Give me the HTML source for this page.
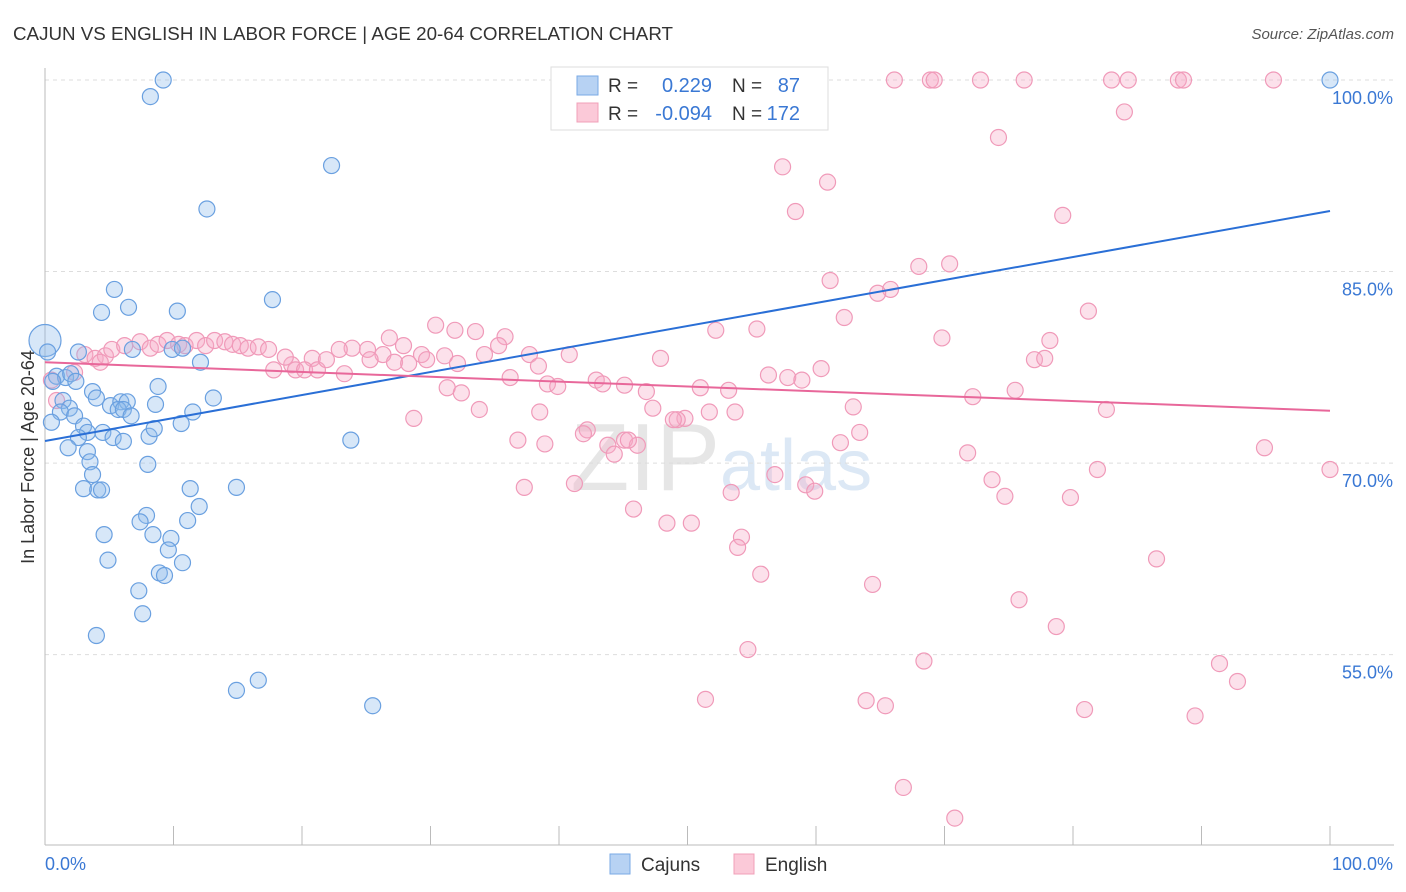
<!DOCTYPE html>
<html><head><meta charset="utf-8">
<style>
body{margin:0;background:#fff;font-family:"Liberation Sans",sans-serif;}
#wrap{position:relative;width:1406px;height:892px;overflow:hidden;}
svg text{font-family:"Liberation Sans",sans-serif;}
</style></head>
<body>
<div id="wrap">
<svg id="chart" width="1406" height="892">
<text x="13" y="40" font-size="18" fill="#333" textLength="660" lengthAdjust="spacingAndGlyphs">CAJUN VS ENGLISH IN LABOR FORCE | AGE 20-64 CORRELATION CHART</text>
<text x="1394" y="39" font-size="15" fill="#555" font-style="italic" text-anchor="end">Source: ZipAtlas.com</text>
<text x="720" y="490" font-size="96" fill="#e6e6e6" text-anchor="end" font-family="Liberation Serif">ZIP</text>
<text x="720" y="490" font-size="72" fill="#dce8f5">atlas</text>
<g id="grid"></g><g id="axes"></g><g id="pts"></g><g id="lines"></g>
<text transform="translate(34,457) rotate(-90)" font-size="18" fill="#333" text-anchor="middle">In Labor Force | Age 20-64</text>
<g>
<rect x="551" y="67" width="277" height="63" fill="#fff" stroke="#ddd"/>
<rect x="577" y="76" width="21" height="19" fill="#b7d2f3" stroke="#7aaae6"/>
<rect x="577" y="103" width="21" height="19" fill="#fbc9d8" stroke="#f0a0b8"/>
<text x="608" y="92" font-size="19" fill="#333">R =</text>
<text x="712" y="92" font-size="20" fill="#3a78d4" text-anchor="end">0.229</text>
<text x="732" y="92" font-size="19" fill="#333">N =</text>
<text x="800" y="92" font-size="20" fill="#3a78d4" text-anchor="end">87</text>
<text x="608" y="120" font-size="19" fill="#333">R =</text>
<text x="712" y="120" font-size="20" fill="#3a78d4" text-anchor="end">-0.094</text>
<text x="732" y="120" font-size="19" fill="#333">N =</text>
<text x="800" y="120" font-size="20" fill="#3a78d4" text-anchor="end">172</text>
</g>
<g>
<rect x="610" y="854" width="20" height="20" fill="#b7d2f3" stroke="#7aaae6"/>
<text x="641" y="871" font-size="19" fill="#333">Cajuns</text>
<rect x="734" y="854" width="20" height="20" fill="#fbc9d8" stroke="#f0a0b8"/>
<text x="765" y="871" font-size="19" fill="#333">English</text>
</g>
</svg>
</div>
<script>
const yTicks=[100,85,70,55];
const yTickLabels=["100.0%","85.0%","70.0%","55.0%"];
const xTickLabels=["0.0%","100.0%"];
const cajunX=[9.2,8.2,22.3,12.6,5.4,4.4,6.5,10.3,17.7,0,0.2,2.6,6.8,9.9,10.7,12.1,0.9,1.6,2.0,0.6,2.4,3.7,8.8,1.4,1.9,4.0,5.1,5.9,6.4,8.6,13.1,1.2,2.3,5.7,6.1,6.7,11.5,0.5,3.0,3.3,4.5,2.6,5.3,6.1,8.1,8.5,10.6,23.8,1.8,3.3,3.5,8.0,3.7,3.0,4.1,4.4,11.3,14.9,7.9,7.4,11.1,12.0,4.6,8.4,9.8,4.9,9.6,10.7,8.9,9.3,7.3,7.6,4.0,14.9,16.6,25.5,100];
const cajunY=[100,98.7,93.3,89.9,83.6,81.8,82.2,81.9,82.8,79.6,78.7,78.7,78.9,78.9,79.0,77.9,76.8,76.7,77.0,76.4,76.4,75.6,76.0,74.9,74.3,75.1,74.5,74.8,74.8,74.6,75.1,74.0,73.7,74.2,74.2,73.7,74.0,73.2,72.9,72.4,72.4,72.0,72.0,71.7,72.1,72.7,73.1,71.8,71.2,70.9,70.1,69.9,69.1,68.0,67.9,67.9,68.0,68.1,65.9,65.4,65.5,66.6,64.4,64.4,64.1,62.4,63.2,62.2,61.4,61.2,60.0,58.2,56.5,52.2,53.0,51.0,100];
const englishX=[66.1,68.9,69.2,72.8,76.2,83.0,84.3,88.2,88.6,95.6,84.0,74.2,57.4,60.9,58.4,79.2,68.0,70.4,61.1,65.8,64.8,81.2,62.2,52.2,55.4,69.8,78.2,77.0,77.8,60.4,56.3,57.8,58.9,75.5,72.2,62.9,82.6,47.9,51.0,53.2,53.7,51.7,49.8,49.2,63.4,61.9,71.8,56.8,59.2,59.9,73.7,74.7,81.9,79.8,94.9,100,53.4,45.8,48.4,50.3,54.2,53.9,55.7,64.4,75.8,86.5,78.7,54.7,68.4,91.4,92.8,51.4,63.9,65.4,80.9,89.5,66.8,70.8,
30.4,31.9,33.5,35.8,26.8,35.3,27.9,23.9,22.9,25.1,26.3,29.3,31.1,25.3,27.2,32.1,34.2,37.7,40.8,38.4,20.8,19.2,17.8,19.5,20.2,21.2,23.3,21.9,28.3,29.7,36.2,39.1,39.9,42.9,43.4,45.1,46.8,31.3,32.4,33.8,38.5,28.7,36.8,38.9,41.2,37.3,42.2,41.9,43.8,44.3,45.1,46.1,47.3,48.9,45.4,
3.1,3.9,4.7,5.2,6.2,7.4,8.2,8.8,9.5,10.4,10.9,11.8,12.5,13.2,14.0,14.6,15.2,15.8,16.6,17.4,18.7,4.3,2.3,0.9,0.5];
const englishY=[100,100,100,100,100,100,100,100,100,100,97.5,95.5,93.2,92.0,89.7,89.4,85.4,85.6,84.3,83.6,83.3,81.9,81.4,80.4,80.5,79.8,79.6,78.1,78.2,77.4,76.9,76.7,76.5,75.7,75.2,74.4,74.2,78.2,75.9,75.7,74.0,74.0,73.5,73.4,72.4,71.6,70.8,69.1,68.3,67.8,68.7,67.4,69.5,67.3,71.2,69.5,67.7,66.4,65.3,65.3,64.2,63.4,61.3,60.5,59.3,62.5,57.2,55.4,54.5,54.3,52.9,51.5,51.4,51.0,50.7,50.2,44.6,42.2,
80.8,80.4,80.3,79.9,79.8,79.2,79.2,79.0,78.9,78.9,78.5,78.5,78.4,78.1,77.9,77.8,78.5,78.5,78.5,77.6,78.2,77.7,77.3,77.3,77.3,77.3,77.0,78.1,77.8,78.1,76.7,76.2,76.0,76.5,76.2,76.1,75.6,75.9,75.5,74.2,74.0,73.5,71.8,71.5,68.4,68.1,72.6,72.3,71.4,70.7,71.8,71.4,74.3,73.4,71.8,
78.5,78.2,78.4,78.9,79.2,79.5,79.0,79.3,79.6,79.3,79.2,79.6,79.2,79.6,79.5,79.3,79.2,79.0,79.1,78.9,78.3,77.9,77.1,74.9,76.5];
const cajunTrend=[71.73,89.74];
const englishTrend=[77.9,74.1];

const NS="http://www.w3.org/2000/svg";
const X0=45,X1=1330,YTOP=80,PXPER=12.77;
function sx(v){return X0+(X1-X0)*v/100;}
function sy(v){return YTOP+(100-v)*PXPER;}
function mk(tag,attrs,parent){const e=document.createElementNS(NS,tag);for(const k in attrs)e.setAttribute(k,attrs[k]);parent.appendChild(e);return e;}
const grid=document.getElementById('grid'),axes=document.getElementById('axes'),pts=document.getElementById('pts'),lines=document.getElementById('lines');
yTicks.forEach((t,i)=>{
  const l=mk('line',{x1:X0,x2:1394,y1:sy(t),y2:sy(t),stroke:'#ddd','stroke-dasharray':'4,4'},grid);
  
  
  const tx=mk('text',{x:1393,y:sy(t)+24,'font-size':18,fill:'#3a78d4','text-anchor':'end'},axes);
  tx.textContent=yTickLabels[i];
  
  
});
const ya=mk('line',{x1:X0,x2:X0,y1:68,y2:845,stroke:'#bbb'},axes);


const xa=mk('line',{x1:X0,x2:1394,y1:845,y2:845,stroke:'#bbb'},axes);


for(let i=0;i<=10;i++){
  const t=mk('line',{x1:sx(i*10),x2:sx(i*10),y1:826,y2:845,stroke:'#bbb'},axes);
  
  
}
const xl0=mk('text',{x:45,y:870,'font-size':18,fill:'#3a78d4'},axes);xl0.textContent=xTickLabels[0];


const xl1=mk('text',{x:1393,y:870,'font-size':18,fill:'#3a78d4','text-anchor':'end'},axes);xl1.textContent=xTickLabels[1];


englishX.forEach((v,i)=>{
  const c=mk('circle',{cx:sx(v),cy:sy(englishY[i]),r:8,fill:'rgba(246,170,198,0.35)',stroke:'#f09ab9','stroke-width':1.2},pts);
  
  
});
cajunX.forEach((v,i)=>{
  const c=mk('circle',{cx:sx(v),cy:sy(cajunY[i]),r:(v===0&&cajunY[i]>79)?16:8,fill:'rgba(140,185,235,0.35)',stroke:'#6aa0e0','stroke-width':1.2},pts);
  
  
});
const bl=mk('line',{x1:sx(0),x2:sx(100),y1:sy(cajunTrend[0]),y2:sy(cajunTrend[1]),stroke:'#2a6fd6','stroke-width':2},lines);


const pl=mk('line',{x1:sx(0),x2:sx(100),y1:sy(englishTrend[0]),y2:sy(englishTrend[1]),stroke:'#e8679a','stroke-width':2},lines);


</script>
</body></html>
